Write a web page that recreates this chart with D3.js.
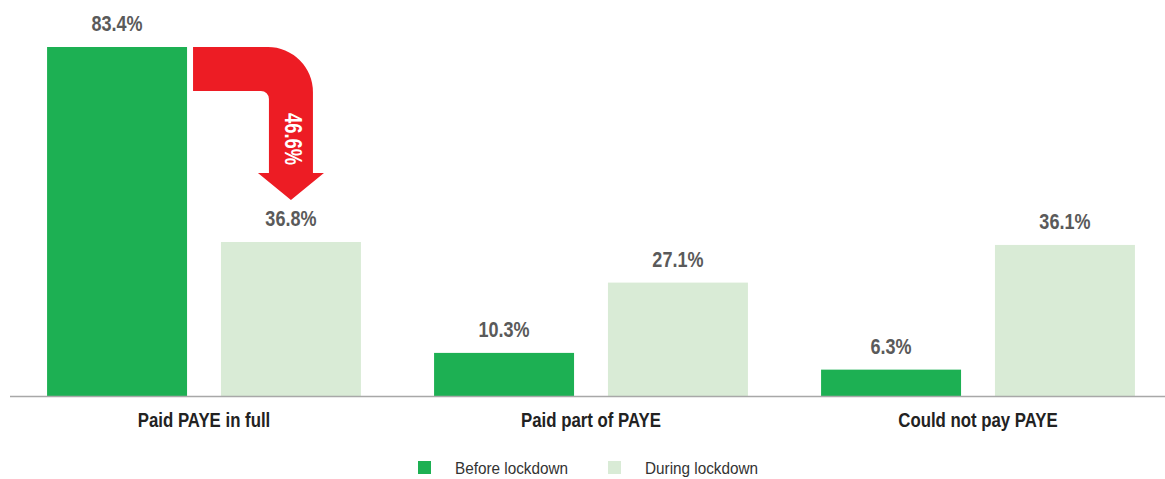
<!DOCTYPE html>
<html>
<head>
<meta charset="utf-8">
<script src="https://cdn.jsdelivr.net/npm/d3@7"></script>
<style>
  html, body { margin: 0; padding: 0; background: #fff; }
  svg { display: block; }
  text { font-family: "Liberation Sans", Arial, sans-serif; }
</style>
</head>
<body>
<svg id="chart" width="1165" height="479"></svg>
<script>
// Share of businesses by PAYE payment status, before vs during lockdown
const categories = ["Paid PAYE in full", "Paid part of PAYE", "Could not pay PAYE"];
const seriesNames = ["Before lockdown", "During lockdown"];
const beforeValues = [83.4, 10.3, 6.3];
const duringValues = [36.8, 27.1, 36.1];
const dropLabel = "46.6%";
const colors = ["#1DB053", "#D9EBD6"];

const baseY = 396;
const condense = 0.8; // horizontal squeeze for a condensed type look
const svg = d3.select("#chart");

const x0 = d3.scaleBand()
  .domain(categories)
  .range([10.5, 1171.5])
  .paddingInner(0.189)
  .paddingOuter(0.0945);

const x1 = d3.scaleBand()
  .domain(seriesNames)
  .range([0, x0.bandwidth()])
  .paddingInner(0.195)
  .paddingOuter(0);

const y = d3.scaleLinear().domain([0, 83.4]).range([baseY, 47]);

const rows = categories.map((c, i) => ({
  category: c,
  values: [
    { series: seriesNames[0], value: beforeValues[i] },
    { series: seriesNames[1], value: duringValues[i] }
  ]
}));

const color = d3.scaleOrdinal().domain(seriesNames).range(colors);

const groups = svg.selectAll("g.group")
  .data(rows)
  .join("g")
  .attr("class", "group")
  .attr("transform", d => `translate(${x0(d.category)},0)`);

groups.selectAll("rect")
  .data(d => d.values)
  .join("rect")
  .attr("x", d => x1(d.series))
  .attr("y", d => y(d.value))
  .attr("width", x1.bandwidth())
  .attr("height", d => baseY - y(d.value))
  .attr("fill", d => color(d.series));

groups.selectAll("text.val")
  .data(d => d.values)
  .join("text")
  .attr("class", "val")
  .attr("transform", d => `translate(${x1(d.series) + x1.bandwidth() / 2},${y(d.value) - 16}) scale(0.82,1)`)
  .attr("text-anchor", "middle")
  .attr("font-size", 22)
  .attr("font-weight", "bold")
  .attr("fill", "#5a5a5a")
  .text(d => d.value.toFixed(1) + "%");

// Baseline axis
const xAxis = d3.axisBottom(x0).tickSize(0).tickPadding(16);
const axisG = svg.append("g")
  .attr("transform", `translate(0,${baseY})`)
  .call(xAxis);
axisG.select(".domain").attr("d", `M10,0.5H1165`).attr("stroke", "#a8a8a8").attr("stroke-width", 1.5);
axisG.selectAll(".tick text")
  .attr("font-size", 21)
  .attr("font-weight", "bold")
  .attr("fill", "#222")
  .attr("font-family", "'Liberation Sans', Arial, sans-serif")
  .attr("transform", `scale(${condense},1)`);

// Bent arrow showing the drop from before to during for the first category
const c0 = categories[0];
const barLeftEnd = x0(c0) + x1(seriesNames[0]) + x1.bandwidth();
const cx = x0(c0) + x1(seriesNames[1]) + x1.bandwidth() / 2;
const arrowTop = y(beforeValues[0]);
const thick = 44, half = 22, R = 45, r = 8, headHalf = 33;
const tipY = y(duringValues[0]) - 42;
const headTop = tipY - 27;
const L = barLeftEnd + 6, SL = cx - half, SR = cx + half;
const p = d3.path();
p.moveTo(L, arrowTop);
p.lineTo(SR - R, arrowTop);
p.arcTo(SR, arrowTop, SR, arrowTop + R, R);
p.lineTo(SR, headTop);
p.lineTo(cx + headHalf, headTop);
p.lineTo(cx, tipY);
p.lineTo(cx - headHalf, headTop);
p.lineTo(SL, headTop);
p.lineTo(SL, arrowTop + thick + r);
p.arcTo(SL, arrowTop + thick, SL - r, arrowTop + thick, r);
p.lineTo(L, arrowTop + thick);
p.closePath();
svg.append("path").attr("d", p.toString()).attr("fill", "#ED1C24");

svg.append("text")
  .attr("transform", `translate(${cx - 5.5},${(arrowTop + thick + headTop) / 2 + 7}) rotate(90) scale(0.8,1)`)
  .attr("text-anchor", "middle")
  .attr("font-size", 23)
  .attr("font-weight", "bold")
  .attr("fill", "#fff")
  .text(dropLabel);

// Legend
const legendItems = [
  { name: seriesNames[0], x: 418 },
  { name: seriesNames[1], x: 608 }
];
const lg = svg.selectAll("g.legend")
  .data(legendItems)
  .join("g")
  .attr("class", "legend")
  .attr("transform", d => `translate(${d.x},461)`);
lg.append("rect").attr("width", 13).attr("height", 13).attr("fill", d => color(d.name));
lg.append("text")
  .attr("transform", "translate(37,12.5) scale(0.9,1)")
  .attr("font-size", 17)
  .attr("fill", "#333")
  .text(d => d.name);
</script>
</body>
</html>
